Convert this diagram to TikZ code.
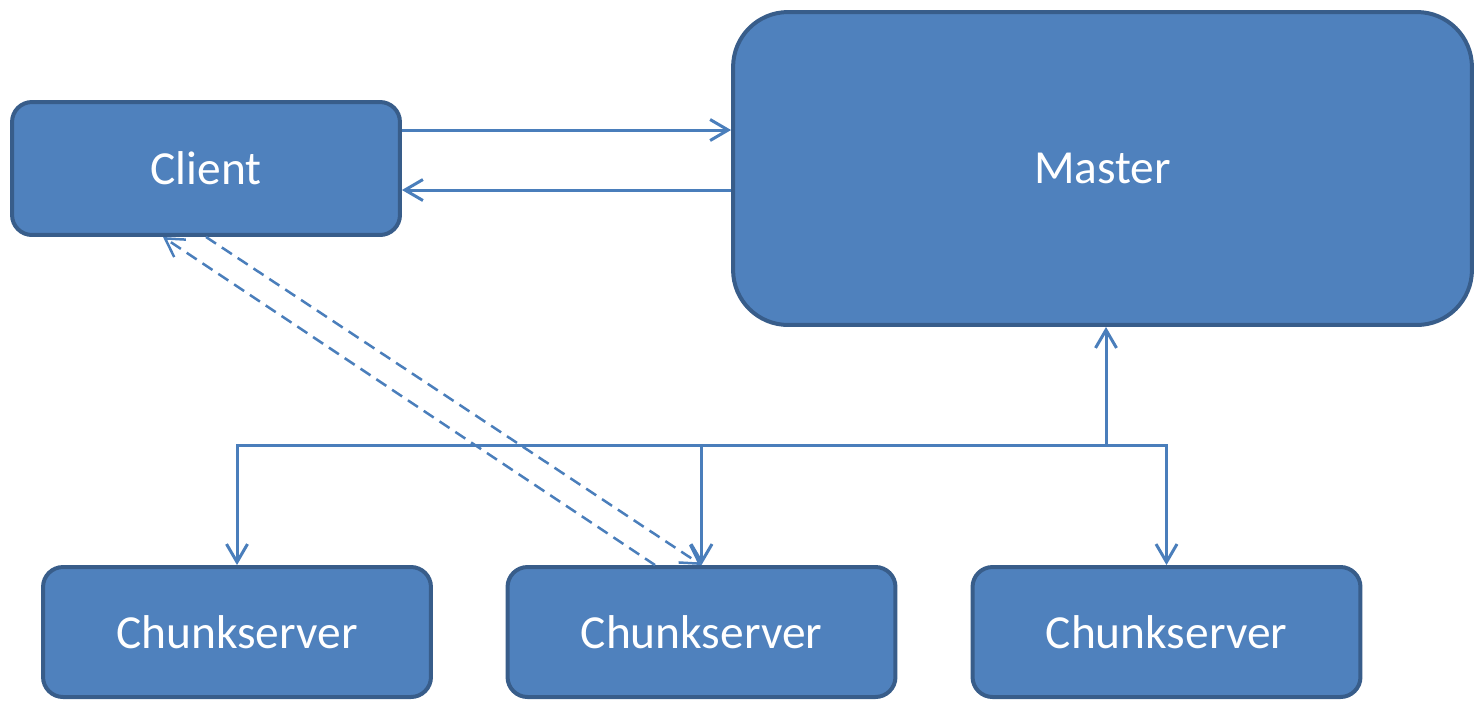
\documentclass[tikz,border=0pt]{standalone}
\usepackage{fontspec}
\setmainfont{Carlito}
\usetikzlibrary{arrows.meta}
\definecolor{boxfill}{HTML}{4F81BD}
\definecolor{boxline}{HTML}{385D8A}
\definecolor{wire}{HTML}{4A7EBB}
\begin{document}
\begin{tikzpicture}[x=0.02cm, y=-0.02cm,
    box/.style = {draw=boxline, fill=boxfill, line width=0.08cm, rounded corners=0.4cm,
                  text=white, inner sep=0pt, font=\fontsize{27}{32}\selectfont},
    link/.style = {draw=wire, line width=0.06cm, -{Straight Barb[length=3.6mm, width=4.2mm]}},
    dashlink/.style = {link, line width=0.05cm, dash pattern=on 0.24cm off 0.14cm}]
    \useasboundingbox (0,0) rectangle (1476,701);
    \node[box, minimum width=7.76cm, minimum height=2.66cm] (client) at (206,168.5) {Client};
    \node[box, minimum width=14.78cm, minimum height=6.26cm, rounded corners=1.1cm] (master) at (1102.5,168.5) {Master};
    \node[box, minimum width=7.76cm, minimum height=2.6cm] (cs1) at (237,632) {Chunkserver};
    \node[box, minimum width=7.76cm, minimum height=2.6cm] (cs2) at (701.5,632) {Chunkserver};
    \node[box, minimum width=7.76cm, minimum height=2.6cm] (cs3) at (1166.5,632) {Chunkserver};
    \coordinate (hub) at (1106,445);
    \draw[link] ([yshift=0.77cm]client.east) -- ([yshift=0.77cm]master.west);
    \draw[link] ([yshift=-0.43cm]master.west) -- ([yshift=-0.43cm]client.east);
    \draw[link] (hub) -- (hub |- master.south);
    \draw[link] (hub) -| (cs1.north);
    \draw[link] (hub) -| (cs2.north);
    \draw[link] (hub) -| (cs3.north);
    \draw[dashlink] ([xshift=-0.93cm]cs2.north) -- ([xshift=-0.86cm]client.south);
    \draw[dashlink] (client.south) -- (cs2.north);
\end{tikzpicture}
\end{document}
